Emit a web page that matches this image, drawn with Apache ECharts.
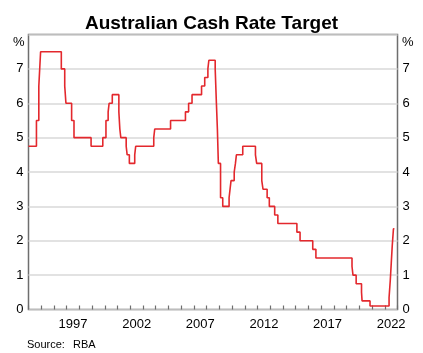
<!DOCTYPE html>
<html>
<head>
<meta charset="utf-8">
<script src="https://cdn.jsdelivr.net/npm/echarts@6/dist/echarts.min.js"></script>
<style>
  html, body { margin: 0; padding: 0; background: #fff; }
  #chart { width: 423px; height: 353px; }
</style>
</head>
<body>
<div id="chart"></div>
<script>
// cash rate target: date of each change and the new rate (%)
var changeDates = [
  '1994-01-01', '1994-08-17', '1994-10-24', '1994-12-14', '1996-07-31', '1996-11-06',
  '1996-12-11', '1997-05-23', '1997-07-30', '1998-12-02', '1999-11-03', '2000-02-02',
  '2000-04-05', '2000-05-03', '2000-08-02', '2001-02-07', '2001-03-07', '2001-04-04',
  '2001-09-05', '2001-10-03', '2001-12-05', '2002-05-08', '2002-06-05', '2003-11-05',
  '2003-12-03', '2005-03-02', '2006-05-03', '2006-08-02', '2006-11-08', '2007-08-08',
  '2007-11-07', '2008-02-06', '2008-03-05', '2008-09-03', '2008-10-08', '2008-11-05',
  '2008-12-03', '2009-02-04', '2009-04-08', '2009-10-07', '2009-11-04', '2009-12-02',
  '2010-03-03', '2010-04-07', '2010-05-05', '2010-11-03', '2011-11-02', '2011-12-07',
  '2012-05-02', '2012-06-06', '2012-10-03', '2012-12-05', '2013-05-08', '2013-08-07',
  '2015-02-04', '2015-05-06', '2016-05-04', '2016-08-03', '2019-06-05', '2019-07-03',
  '2019-10-02', '2020-03-04', '2020-03-20', '2020-11-04', '2022-05-04', '2022-06-08',
  '2022-07-06', '2022-08-03', '2022-09-07', '2022-10-04'
];
var cashRates = [
  4.75, 5.50, 6.50, 7.50, 7.00, 6.50,
  6.00, 5.50, 5.00, 4.75, 5.00, 5.50,
  5.75, 6.00, 6.25, 5.75, 5.25, 5.00,
  4.75, 4.50, 4.25, 4.50, 4.75, 5.00,
  5.25, 5.50, 5.75, 6.00, 6.25, 6.50,
  6.75, 7.00, 7.25, 7.00, 6.00, 5.25,
  4.25, 3.25, 3.00, 3.25, 3.50, 3.75,
  4.00, 4.25, 4.50, 4.75, 4.50, 4.25,
  3.75, 3.50, 3.25, 3.00, 2.75, 2.50,
  2.25, 2.00, 1.75, 1.50, 1.25, 1.00,
  0.75, 0.50, 0.25, 0.10, 0.35, 0.85,
  1.35, 1.85, 2.35, 2.35
];
var labelYears = [1997, 2002, 2007, 2012, 2017, 2022];

var font = 'Arial, "Liberation Sans", sans-serif';

function toYear(s) {
  var p = s.split('-');
  var y = +p[0], m = +p[1], d = +p[2];
  var start = Date.UTC(y, 0, 1), end = Date.UTC(y + 1, 0, 1);
  return y + (Date.UTC(y, m - 1, d) - start) / (end - start);
}

var seriesData = changeDates.map(function (d, i) {
  return [toYear(d), cashRates[i]];
});

var myChart = echarts.init(document.getElementById('chart'));

var option = {
  animation: false,
  backgroundColor: '#ffffff',
  title: {
    text: 'Australian Cash Rate Target',
    left: 'center',
    top: 9,
    textStyle: {
      fontFamily: font,
      fontSize: 19,
      fontWeight: 'bold',
      color: '#000',
      lineHeight: 20
    }
  },
  grid: {
    left: 28.5,
    right: 25.5,
    top: 34.5,
    bottom: 43.5,
    show: true,
    borderColor: '#6e6e6e',
    borderWidth: 1.5,
    backgroundColor: 'transparent'
  },
  graphic: [
    { type: 'text', left: 13, top: 36, style: { text: '%', font: '13px ' + font, fill: '#000' } },
    { type: 'text', left: 402, top: 36, style: { text: '%', font: '13px ' + font, fill: '#000' } },
    { type: 'text', left: 27, top: 339, style: { text: 'Source:', font: '11px ' + font, fill: '#000' } },
    { type: 'text', left: 73, top: 339, style: { text: 'RBA', font: '11px ' + font, fill: '#000' } }
  ],
  xAxis: [{
    type: 'value',
    min: 1994,
    max: 2023,
    interval: 1,
    axisLine: { show: false },
    axisTick: { show: true, inside: true, length: 4, lineStyle: { color: '#6e6e6e', width: 1.2 } },
    axisLabel: { show: false },
    splitLine: { show: false }
  }, {
    type: 'value',
    min: 1994,
    max: 2023,
    interval: 0.5,
    position: 'bottom',
    axisLine: { show: false },
    axisTick: { show: false },
    splitLine: { show: false },
    axisLabel: {
      margin: 8,
      fontFamily: font,
      fontSize: 13,
      color: '#000',
      formatter: function (v) {
        var y = Math.floor(v);
        if (v - y === 0.5 && labelYears.indexOf(y) >= 0) return String(y);
        return '';
      }
    }
  }],
  yAxis: [{
    type: 'value',
    position: 'left',
    min: 0,
    max: 8,
    interval: 1,
    axisLine: { show: false },
    axisTick: { show: false },
    axisLabel: {
      margin: 5,
      fontFamily: font,
      fontSize: 13,
      color: '#000',
      formatter: function (v) { return v === 8 ? '' : String(v); }
    },
    splitLine: { show: true, lineStyle: { color: '#d9d9d9', width: 1.5 } }
  }, {
    type: 'value',
    position: 'right',
    min: 0,
    max: 8,
    interval: 1,
    axisLine: { show: false },
    axisTick: { show: false },
    axisLabel: {
      margin: 5,
      fontFamily: font,
      fontSize: 13,
      color: '#000',
      formatter: function (v) { return v === 8 ? '' : String(v); }
    },
    splitLine: { show: false }
  }],
  series: [{
    name: 'Cash rate target',
    type: 'line',
    step: 'end',
    xAxisIndex: 0,
    yAxisIndex: 0,
    showSymbol: false,
    data: seriesData,
    lineStyle: { color: '#e3282d', width: 1.6 }
  }]
};

myChart.setOption(option);
</script>
</body>
</html>
